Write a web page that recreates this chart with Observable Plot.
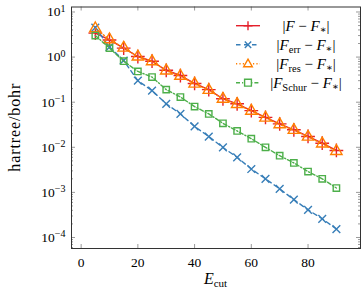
<!DOCTYPE html>
<html><head><meta charset="utf-8">
<script src="https://cdn.jsdelivr.net/npm/d3@7"></script>
<script src="https://cdn.jsdelivr.net/npm/@observablehq/plot@0.6"></script>
<style>body{margin:0;background:#fff} #chart{width:361px;height:291px} svg text{font-family:"Liberation Serif","DejaVu Serif","Times New Roman",serif !important}</style>
</head><body><div id="chart"></div>
<script>
// ---- data ----
const Ecut = [5,10,15,20,25,30,35,40,45,50,55,60,65,70,75,80,85,90];
const errF     = [3.4,2.4,1.58,1.03,0.81,0.51,0.39,0.26,0.19,0.119,0.092,0.065,0.046,0.033,0.0244,0.0174,0.0123,0.0085];
const errErr   = [4.5,1.67,0.84,0.30,0.18,0.092,0.055,0.029,0.0173,0.0099,0.006,0.0033,0.002,0.0012,0.00069,0.00041,0.00026,0.000154];
const errRes   = [4.3,2.45,1.6,1.02,0.8,0.5,0.38,0.255,0.185,0.118,0.09,0.064,0.045,0.032,0.024,0.017,0.012,0.0082];
const errSchur = [3.0,1.58,0.81,0.48,0.36,0.19,0.13,0.08,0.055,0.034,0.023,0.0155,0.01,0.0065,0.0045,0.0029,0.002,0.00125];
const seriesSub = ["", "err", "res", "Schur"];
const xTicks = [0,20,40,60,80];
const yTicks = [1e-4,1e-3,1e-2,1e-1,1,10];
const xLabel = ["E","cut"];
const yLabel = "hartree/bohr";

// ---- style ----
const colors = ["#e4202b","#377eb8","#ff7f00","#4daf4a"];
const dashes = [null,"4.5,3.5","1.2,2.2","4,2,1.2,2"];
const symbols = ["plus","times","triangle","square"];
const font = "Liberation Serif";

const W=361,H=291,mL=71,mR=1,mT=6.5,mB=43;
const fw=W-mL-mR, fh=H-mT-mB;
const xDomain=[-3.4,98.5], yDomain=[5.7e-5,12.9];

const minor=[];
for(let e=-5;e<=1;e++) for(let m=2;m<=9;m++){const v=m*10**e; if(v>yDomain[0]&&v<yDomain[1]) minor.push(v);}

const all=[errF,errErr,errRes,errSchur];
const marks=[];
all.forEach((arr,s)=>{
  const rows=Ecut.map((E,i)=>({E,v:arr[i]}));
  marks.push(Plot.line(rows,{x:"E",y:"v",stroke:colors[s],strokeWidth:1.4,strokeDasharray:dashes[s]}));
  marks.push(Plot.dot(rows,{x:"E",y:"v",stroke:colors[s],symbol:symbols[s],r:symbols[s]==="plus"?4.5:(symbols[s]==="triangle"?4.2:3.6),strokeWidth:1.4,fill:"none"}));
});

const tickCol="#9a9a9a";
const chart=Plot.plot({
  width:W,height:H,marginLeft:mL,marginRight:mR,marginTop:mT,marginBottom:mB,
  style:{fontFamily:font,fontSize:"13.5px",background:"white",color:"black"},
  x:{domain:xDomain},
  y:{type:"log",domain:yDomain},
  marks:[
    Plot.tickX(xTicks,{x:d=>d,insetTop:fh-4,stroke:tickCol}),
    Plot.tickX(xTicks,{x:d=>d,insetBottom:fh-4,stroke:tickCol}),
    Plot.tickY(yTicks,{y:d=>d,insetRight:fw-4,stroke:tickCol}),
    Plot.tickY(yTicks,{y:d=>d,insetLeft:fw-4,stroke:tickCol}),
    Plot.tickY(minor,{y:d=>d,insetRight:fw-2,stroke:tickCol}),
    Plot.tickY(minor,{y:d=>d,insetLeft:fw-2,stroke:tickCol}),
    Plot.axisX({ticks:xTicks,tickSize:0,tickPadding:9,label:null}),
    Plot.axisY({ticks:yTicks,tickSize:0,tickPadding:6,label:null,tickFormat:d=>"10^"+Math.round(Math.log10(d))}),
    ...marks,
    Plot.frame({stroke:"#333",strokeWidth:1})
  ]
});
document.getElementById("chart").appendChild(chart);
const svg=d3.select(chart);

// superscript tick labels
svg.selectAll('g[aria-label="y-axis tick label"] text').each(function(){
  const t=d3.select(this); const s=t.text(); const e=s.split("^")[1];
  t.text(null);
  t.append("tspan").text("10");
  t.append("tspan").attr("dy","-0.45em").attr("font-size","10px").text(e.replace("-","\u2212"));
});

// axis labels
const xl=svg.append("text").attr("x",mL+fw/2).attr("y",284).attr("text-anchor","middle")
  .attr("font-size","16px");
xl.append("tspan").attr("font-style","italic").text(xLabel[0]);
xl.append("tspan").attr("font-size","11px").attr("dy","3").text(xLabel[1]);
svg.append("text").attr("transform",`translate(20,${mT+fh/2}) rotate(-90)`).attr("text-anchor","middle")
  .attr("font-size","16px").attr("letter-spacing","0.9px").text(yLabel);

// legend
const lg=svg.append("g");
seriesSub.forEach((sub,i)=>{
  const y=25.7+19*i, cx=248;
  lg.append("line").attr("x1",236).attr("x2",260).attr("y1",y).attr("y2",y)
    .attr("stroke",colors[i]).attr("stroke-width",1.4).attr("stroke-dasharray",dashes[i]);
  let d;
  if(i===0) d="M-4.5,0H4.5M0,-4.5V4.5";
  else if(i===1) d="M-3.2,-3.2L3.2,3.2M-3.2,3.2L3.2,-3.2";
  else if(i===2) d="M0,-4.6L4.3,3L-4.3,3Z";
  else d="M-3.4,-3.4H3.4V3.4H-3.4Z";
  lg.append("path").attr("d",d).attr("transform",`translate(${cx},${y})`).attr("fill","white")
    .attr("stroke",colors[i]).attr("stroke-width",1.4);
  const t=lg.append("text").attr("x",306).attr("y",y+5).attr("text-anchor","middle")
    .attr("font-size","15px");
  t.append("tspan").text("|");
  t.append("tspan").attr("font-style","italic").text("F");
  if(sub){ t.append("tspan").attr("font-size","10.5px").attr("dy","3").text(sub); t.append("tspan").attr("dy","-3").text(" \u2212 "); }
  else t.append("tspan").text(" \u2212 ");
  t.append("tspan").attr("font-style","italic").text("F");
  t.append("tspan").attr("font-size","10px").attr("dy","2").text("\u2217");
  t.append("tspan").attr("dy","-2").text("|");
});
</script></body></html>
